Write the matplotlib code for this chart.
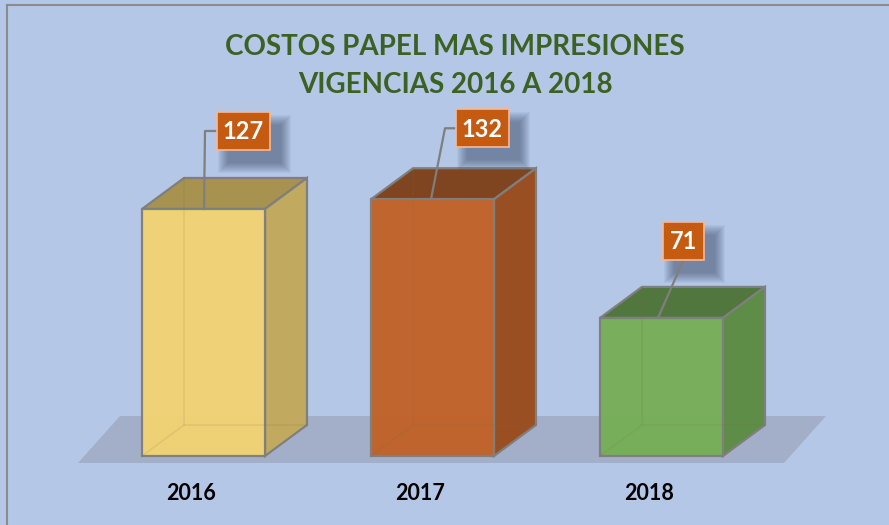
import numpy as np
import matplotlib
matplotlib.use("Agg")
import matplotlib.pyplot as plt
from matplotlib.patches import Polygon, Rectangle

# data
years = ["2016", "2017", "2018"]
values = [127, 132, 71]
title_lines = ["COSTOS PAPEL MAS IMPRESIONES", "VIGENCIAS 2016 A 2018"]

front_cols = ["#F2D373", "#C16228", "#76AE57"]
top_cols = ["#A8924F", "#7E4520", "#52773E"]
side_cols = ["#C1AA60", "#9A4F22", "#5E8D47"]
bg = "#B4C7E7"

W, H = 889, 525
fig = plt.figure(figsize=(W / 100, H / 100), dpi=100)
fig.patch.set_facecolor(bg)
ax = fig.add_axes([0, 0, 1, 1])
ax.set_facecolor(bg)

# pixel scale: one category step = 229 px, one value unit = 1.945 px
sx, sy = 229.0, 1.945
x0px, y0px = 203.5, 456.0
ax.set_xlim(-x0px / sx, (W - x0px) / sx)
ax.set_ylim(-(H - y0px) / sy, y0px / sy)
ax.axis("off")

def px(dx):
    return dx / sx

def py(dy):
    return dy / sy

bw = 0.537
ddx, ddy = px(42), py(31)
x = np.arange(len(values))

# floor
fl, fr = px(78 - x0px), px(784 - x0px)
fb, ff = py(456 - 416), py(456 - 463)
ax.add_patch(Polygon([(fl, ff), (fl + ddx, fb), (fr + ddx, fb), (fr, ff)],
                     closed=True, facecolor="#A3AFC8", edgecolor="none", zorder=1))

# 3d bars
for i, v in enumerate(values):
    l, r = x[i] - bw / 2, x[i] + bw / 2
    top = Polygon([(l, v), (l + ddx, v + ddy), (r + ddx, v + ddy), (r, v)],
                  closed=True, facecolor=top_cols[i], edgecolor="#7F7F7F", lw=1.6, zorder=2)
    side = Polygon([(r, 0), (r + ddx, ddy), (r + ddx, v + ddy), (r, v)],
                   closed=True, facecolor=side_cols[i], edgecolor="#7F7F7F", lw=1.6, zorder=2)
    ax.add_patch(top)
    ax.add_patch(side)
    # faint hidden edges
    ax.plot([l, l + ddx, l + ddx], [0, ddy, v + ddy], color="#7F6A40", alpha=0.13, lw=1.2, zorder=4)
    ax.plot([l + ddx, r + ddx], [ddy, ddy], color="#7F6A40", alpha=0.13, lw=1.2, zorder=4)
ax.bar(x, values, width=bw, color=front_cols, edgecolor="#7F7F7F", lw=1.6, zorder=3, alpha=0.97)

# year labels
for i, yr in enumerate(years):
    ax.text(x[i] - px(12), py(456 - 494), yr, ha="center", va="center",
            fontsize=15.5, fontweight="bold", family="Lato",
            color="black", zorder=5)

# data labels with leader lines
box_off = [(40, 78), (50, 71), (22, 77)]
leaders = [[(205, 131), (204, 0)], [(445, 129), (431, 0)], [None, (658, 0)]]
bh = 38
for i, v in enumerate(values):
    txt = str(v)
    bwpx = 17 + 12 * len(txt)
    cx = x[i] + px(box_off[i][0])
    cy = v + py(box_off[i][1])
    # soft shadow (stacked translucent rects)
    for g in range(10, -1, -1):
        ax.add_patch(Rectangle((cx - px(bwpx / 2) + px(11 - g), cy - py(bh / 2) - py(13 + g)),
                               px(bwpx + 2 * g), py(bh + 2 * g),
                               facecolor="#34425E", edgecolor="none", alpha=0.055, zorder=6))
    ax.add_patch(Rectangle((cx - px(bwpx / 2), cy - py(bh / 2)), px(bwpx), py(bh),
                           facecolor="#C55A11", edgecolor="#F4B99A", lw=1.2, zorder=8))
    ax.text(cx, cy - py(1), txt, ha="center", va="center", color="white", fontsize=17,
            fontweight="bold", family="Lato", zorder=9)
    # leader line
    p1, p2 = leaders[i]
    if p1 is None:
        xs = [cx, x[i] + px(p2[0] - (x0px + sx * i))]
        ys = [cy - py(bh / 2), v]
    else:
        bx = cx - px(bwpx / 2)
        xs = [bx, x[i] + px(p1[0] - (x0px + sx * i)), x[i] + px(p2[0] - (x0px + sx * i))]
        ys = [cy, cy, v]
    ax.plot(xs, ys, color="#7F7F7F", lw=1.6, zorder=7)

# title
for j, line in enumerate(title_lines):
    fig.text(455 / W, 1 - (47 + 38 * j) / H, line, ha="center", va="center",
             fontsize=20, fontweight="bold", family="Lato", color="#3B6123")

# chart border (top/left visible)
fig.add_artist(plt.Line2D([7 / W, 7 / W], [0, 1 - 5 / H], color="#8C8C8C", lw=1.5))
fig.add_artist(plt.Line2D([7 / W, 1], [1 - 5 / H, 1 - 5 / H], color="#8C8C8C", lw=1.5))

fig.savefig("out.png", dpi=100, facecolor=bg)
